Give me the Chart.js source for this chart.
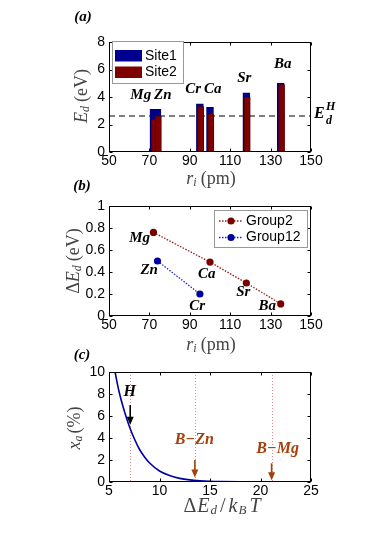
<!DOCTYPE html>
<html><head><meta charset="utf-8">
<script src="https://cdn.jsdelivr.net/npm/chart.js@4.4.1/dist/chart.umd.min.js"></script>
<style>
html,body{margin:0;padding:0;background:#fff;}
#wrap{position:relative;width:390px;height:552px;background:#fff;}
canvas{position:absolute;left:0;top:0;}
</style></head><body>
<div id="wrap">
<canvas id="ca" width="390" height="552"></canvas>
<canvas id="cb" width="390" height="552"></canvas>
<canvas id="cc" width="390" height="552"></canvas>
</div>
<script>
// ---------- data ----------
const elements = ['Mg','Zn','Cr','Ca','Sr','Ba'];
const radii = [72, 74, 95, 100, 118, 135];
const site1 = [3.1, 3.1, 3.5, 3.25, 4.3, 5.02];
const site2 = [2.35, 2.6, 3.3, 2.76, 4.0, 4.9];
const edH = 2.62;

const group2Names = ['Mg','Ca','Sr','Ba'];
const group2R = [72, 100, 118, 135];
const group2dE = [0.76, 0.49, 0.30, 0.11];
const group12Names = ['Zn','Cr'];
const group12R = [74, 95];
const group12dE = [0.50, 0.20];

const curveX = [5.6, 6, 6.5, 7, 7.5, 8, 8.5, 9, 10, 11, 12, 13, 14, 15, 16, 18, 20, 22, 25];
const curveY = [10, 8.2, 6.5, 5.1, 3.95, 3.0, 2.3, 1.75, 1.0, 0.58, 0.33, 0.19, 0.11, 0.06, 0.035, 0.012, 0.004, 0, 0];
const markerNames = ['H', 'B\u2212Zn', 'B\u2212Mg'];
const markerX = [7.1, 13.5, 21.1];

const xTicksA = [50, 150, 20];
const yTicksA = [0, 8, 2];
const yTicksB = [0, 1, 0.2];
const xTicksC = [5, 25, 5];
const yTicksC = [0, 10, 2];

// ---------- helpers ----------
const SANS = '"Liberation Sans", Arial, sans-serif';
const SERIF = '"Liberation Serif", "Times New Roman", serif';

function rich(ctx, parts, x, y, align){
  let w = 0;
  for (const p of parts){ ctx.font = p.f; w += ctx.measureText(p.t).width + (p.gap||0); }
  let cx = align === 'center' ? x - w/2 : (align === 'right' ? x - w : x);
  ctx.textAlign = 'left'; ctx.textBaseline = 'middle';
  for (const p of parts){
    ctx.font = p.f; if (p.c) ctx.fillStyle = p.c;
    ctx.fillText(p.t, cx, y + (p.dy||0));
    cx += ctx.measureText(p.t).width + (p.gap||0);
  }
}
function drawFrame(chart){
  const {ctx, chartArea:a, scales:{x, y}} = chart;
  ctx.save(); ctx.strokeStyle = '#000'; ctx.lineWidth = 1;
  const L = Math.round(a.left)+0.5, R = Math.round(a.right)-0.5, T = Math.round(a.top)+0.5, B = Math.round(a.bottom)-0.5;
  ctx.strokeRect(L, T, R-L, B-T);
  ctx.beginPath();
  x.ticks.forEach(t => { const p = Math.round(x.getPixelForValue(t.value))+0.5; ctx.moveTo(p,B); ctx.lineTo(p,B-3); ctx.moveTo(p,T); ctx.lineTo(p,T+3); });
  y.ticks.forEach(t => { const p = Math.round(y.getPixelForValue(t.value))+0.5; ctx.moveTo(L,p); ctx.lineTo(L+3,p); ctx.moveTo(R,p); ctx.lineTo(R-3,p); });
  ctx.stroke(); ctx.restore();
}
function axis(rng, pad, extra){
  return Object.assign({
    type:'linear', min:rng[0], max:rng[1], offset:false,
    ticks:{stepSize:rng[2], color:'#000', font:{family:SANS, size:14}, padding:pad, maxRotation:0, autoSkip:false,
      callback:v => String(+(+v).toFixed(2))},
    grid:{display:false, drawTicks:false}, border:{display:false}
  }, extra||{});
}
function xAxis(rng){ return axis(rng, 1, {afterFit(s){ s.height = 20; }}); }
function yAxis(rng){ return axis(rng, 4, {afterFit(s){ s.width = 109; }}); }
function arrow(ctx, x, y1, y2, color){
  ctx.save(); ctx.strokeStyle = color; ctx.fillStyle = color; ctx.lineWidth = 1.6;
  ctx.beginPath(); ctx.moveTo(x, y1); ctx.lineTo(x, y2-6); ctx.stroke();
  ctx.beginPath(); ctx.moveTo(x-3.5, y2-8); ctx.lineTo(x+3.5, y2-8); ctx.lineTo(x, y2); ctx.closePath(); ctx.fill();
  ctx.restore();
}
const base = {responsive:false, maintainAspectRatio:false, animation:false,
  plugins:{legend:{display:false}, tooltip:{enabled:false}}};
const TITLE = '#444';
const BI = s => `bold italic ${s}px ${SERIF}`;
const IT = s => `italic ${s}px ${SERIF}`;
const RM = s => `${s}px ${SERIF}`;

// ---------- panel (a) ----------
const labelPosA = [[65.7,4.12],[76.6,4.12],[91.7,4.6],[101.4,4.6],[117,5.34],[136,6.38]];
new Chart(document.getElementById('ca'), {
  type:'bar',
  data:{datasets:[
    {label:'Site1', data:radii.map((r,i)=>({x:r, y:site1[i]})), backgroundColor:'#000090', borderColor:'#00006a', borderWidth:{left:1,right:1,top:1,bottom:0}, barThickness:7, grouped:false, order:2, xAxisID:'x'},
    {label:'Site2', data:radii.map((r,i)=>({x:r, y:site2[i]})), backgroundColor:'#800000', borderColor:'#5a0000', borderWidth:{left:1,right:1,top:1,bottom:0}, barThickness:6, grouped:false, order:1, xAxisID:'x2'}
  ]},
  options:Object.assign({}, base, {
    layout:{padding:{left:0, right:79, top:42, bottom:380}},
    scales:{x:xAxis(xTicksA), x2:{type:'linear', min:xTicksA[0]-0.45, max:xTicksA[1]-0.45, display:false, offset:false}, y:yAxis(yTicksA)}
  }),
  plugins:[{id:'decoA',
    beforeDatasetsDraw(chart){
      const {ctx, chartArea:a, scales:{y}} = chart;
      const py = y.getPixelForValue(edH);
      ctx.save(); ctx.strokeStyle='#000'; ctx.lineWidth=1.2; ctx.setLineDash([6,4]);
      ctx.beginPath(); ctx.moveTo(a.left, py); ctx.lineTo(a.right, py); ctx.stroke(); ctx.restore();
    },
    afterDraw(chart){
      const {ctx, scales:{x, y}} = chart;
      drawFrame(chart);
      ctx.save();
      ctx.fillStyle = '#000';
      elements.forEach((e,i)=>{ rich(ctx, [{t:e, f:BI(15)}], x.getPixelForValue(labelPosA[i][0]), y.getPixelForValue(labelPosA[i][1]), 'center'); });
      const py = y.getPixelForValue(edH);
      ctx.font = BI(16); ctx.textBaseline='middle'; ctx.textAlign='left';
      ctx.fillText('E', 314, py-2);
      ctx.font = BI(12); ctx.fillText('H', 326, py-9); ctx.fillText('d', 326, py+5);
      const ds = chart.data.datasets;
      ctx.fillStyle='#fff'; ctx.fillRect(112.5, 41.5, 71, 42);
      ctx.strokeStyle='#999'; ctx.lineWidth=1; ctx.strokeRect(112.5, 41.5, 71, 42);
      ds.forEach((d,i)=>{
        const yy = 50 + i*16.5;
        ctx.fillStyle = d.backgroundColor; ctx.fillRect(115, yy, 27, 11.5);
        ctx.fillStyle = '#000'; ctx.font = `14px ${SANS}`; ctx.textBaseline='middle'; ctx.fillText(d.label, 145, yy+6);
      });
      ctx.fillStyle = '#000';
      rich(ctx, [{t:'(a)', f:BI(15)}], 83, 17, 'center');
      ctx.fillStyle = TITLE;
      rich(ctx, [{t:'r', f:IT(18)}, {t:'i', f:IT(12), dy:4, gap:4}, {t:'(pm)', f:RM(18)}], 211, 179, 'center');
      ctx.translate(82, 96); ctx.rotate(-Math.PI/2);
      rich(ctx, [{t:'E', f:IT(18)}, {t:'d', f:IT(12), dy:4, gap:4}, {t:'(eV)', f:RM(18)}], 0, 0, 'center');
      ctx.restore();
    }
  }]
});

// ---------- panel (b) ----------
const labelPosB = {Mg:[65.2,0.71], Ca:[98.4,0.38], Sr:[116.5,0.215], Ba:[128.4,0.09], Zn:[69.9,0.42], Cr:[93.7,0.09]};
new Chart(document.getElementById('cb'), {
  type:'line',
  data:{datasets:[
    {label:'Group2', data:group2R.map((r,i)=>({x:r, y:group2dE[i]})), borderColor:'#9b1b1b', backgroundColor:'#7a0000', borderWidth:1.3, borderDash:[1.5,1.5], pointRadius:3.6, pointBackgroundColor:'#7a0000', pointBorderWidth:0, names:group2Names},
    {label:'Group12', data:group12R.map((r,i)=>({x:r, y:group12dE[i]})), borderColor:'#2828c8', backgroundColor:'#0000a0', borderWidth:1.3, borderDash:[1.5,1.5], pointRadius:3.6, pointBackgroundColor:'#0000a0', pointBorderWidth:0, names:group12Names}
  ]},
  options:Object.assign({}, base, {
    layout:{padding:{left:0, right:79, top:206, bottom:216}},
    scales:{x:xAxis(xTicksA), y:yAxis(yTicksB)}
  }),
  plugins:[{id:'decoB',
    afterDraw(chart){
      const {ctx, scales:{x, y}} = chart;
      drawFrame(chart);
      ctx.save();
      ctx.fillStyle='#000';
      chart.data.datasets.forEach(d => d.names.forEach(n => {
        rich(ctx, [{t:n, f:BI(15)}], x.getPixelForValue(labelPosB[n][0]), y.getPixelForValue(labelPosB[n][1]), 'center');
      }));
      ctx.fillStyle='#fff'; ctx.fillRect(214.5, 210.5, 93, 37);
      ctx.strokeStyle='#999'; ctx.lineWidth=1; ctx.strokeRect(214.5, 210.5, 93, 37);
      chart.data.datasets.forEach((d,i)=>{
        const yy = 221 + i*16.5;
        ctx.strokeStyle = d.borderColor; ctx.lineWidth=1.3; ctx.setLineDash([1.5,1.5]);
        ctx.beginPath(); ctx.moveTo(219, yy); ctx.lineTo(243, yy); ctx.stroke(); ctx.setLineDash([]);
        ctx.fillStyle = d.pointBackgroundColor; ctx.beginPath(); ctx.arc(231, yy, 3.6, 0, Math.PI*2); ctx.fill();
        ctx.fillStyle = '#000'; ctx.font = `14px ${SANS}`; ctx.textBaseline='middle'; ctx.textAlign='left'; ctx.fillText(d.label, 246, yy);
      });
      ctx.fillStyle = '#000';
      rich(ctx, [{t:'(b)', f:BI(15)}], 82, 186, 'center');
      ctx.fillStyle = TITLE;
      rich(ctx, [{t:'r', f:IT(18)}, {t:'i', f:IT(12), dy:4, gap:4}, {t:'(pm)', f:RM(18)}], 211, 345, 'center');
      ctx.translate(74, 261); ctx.rotate(-Math.PI/2);
      rich(ctx, [{t:'\u0394', f:RM(18)}, {t:'E', f:IT(18)}, {t:'d', f:IT(12), dy:4, gap:4}, {t:'(eV)', f:RM(18)}], 0, 0, 'center');
      ctx.restore();
    }
  }]
});

// ---------- panel (c) ----------
const annC = [
  {lx:7.06, ly:8.2, a1:7.0, a2:5.2, color:'#000'},
  {lx:13.45, ly:3.8, a1:2.0, a2:0.4, color:'#a5400c'},
  {lx:21.7, ly:3.0, a1:1.7, a2:0.15, color:'#a5400c'}
];
new Chart(document.getElementById('cc'), {
  type:'line',
  data:{datasets:[
    {label:'x_a', data:curveX.map((v,i)=>({x:v, y:curveY[i]})), borderColor:'#0000a0', borderWidth:1.6, pointRadius:0, cubicInterpolationMode:'monotone'}
  ]},
  options:Object.assign({}, base, {
    layout:{padding:{left:0, right:79, top:372, bottom:50}},
    scales:{x:xAxis(xTicksC), y:yAxis(yTicksC)}
  }),
  plugins:[{id:'decoC',
    beforeDatasetsDraw(chart){
      const {ctx, chartArea:a, scales:{x}} = chart;
      ctx.save(); ctx.strokeStyle='#e08a8a'; ctx.lineWidth=1; ctx.setLineDash([1,2]);
      markerX.forEach(v => { const p = Math.round(x.getPixelForValue(v))+0.5; ctx.beginPath(); ctx.moveTo(p, a.top); ctx.lineTo(p, a.bottom); ctx.stroke(); });
      ctx.restore();
    },
    afterDraw(chart){
      const {ctx, scales:{x, y}} = chart;
      drawFrame(chart);
      ctx.save();
      markerNames.forEach((n,i)=>{
        const an = annC[i];
        ctx.fillStyle = an.color;
        rich(ctx, [{t:n, f:BI(16)}], x.getPixelForValue(an.lx), y.getPixelForValue(an.ly), 'center');
        arrow(ctx, x.getPixelForValue(markerX[i]), y.getPixelForValue(an.a1), y.getPixelForValue(an.a2), an.color);
      });
      ctx.fillStyle = '#000';
      rich(ctx, [{t:'(c)', f:BI(15)}], 82, 355, 'center');
      ctx.fillStyle = TITLE;
      rich(ctx, [{t:'\u0394', f:RM(20), gap:1}, {t:'E', f:IT(20), gap:1}, {t:'d', f:IT(13), dy:4, gap:3}, {t:'/', f:RM(20), gap:3}, {t:'k', f:IT(20), gap:1}, {t:'B', f:IT(13), dy:4, gap:3}, {t:'T', f:IT(20)}], 222, 507, 'center');
      ctx.translate(75, 428); ctx.rotate(-Math.PI/2);
      rich(ctx, [{t:'x', f:IT(18)}, {t:'a', f:IT(12), dy:4, gap:2}, {t:'(%)', f:RM(18)}], 0, 0, 'center');
      ctx.restore();
    }
  }]
});
</script>
</body></html>
